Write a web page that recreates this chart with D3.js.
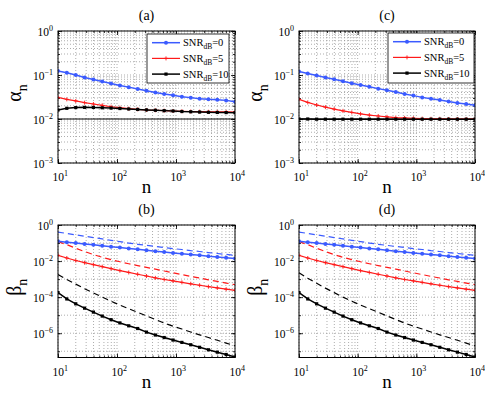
<!DOCTYPE html>
<html><head><meta charset="utf-8">
<script src="https://cdn.jsdelivr.net/npm/d3@7"></script>
<style>
body{margin:0;background:#fff}
svg{display:block}
text{font-family:"Liberation Serif","Times New Roman",Tinos,Times,serif;fill:#000}
</style>
</head><body>
<svg id="chart" width="485" height="396"></svg>
<script>
// ---------------- data ----------------
const nValues = [10, 14.1, 20, 28.2, 39.8, 56.2, 79.4, 112, 158, 224, 316, 447, 631, 891, 1259, 1778, 2512, 3548, 5012, 7079, 10000];
const nTicks = [10, 100, 1000, 10000];
const alphaTicks = [1, 0.1, 0.01, 0.001];
const betaTicks = [1, 1e-2, 1e-4, 1e-6];
const alphaDomain = [1e-3, 1];
const betaDomain = [4.5e-8, 1];
const alphaRef = 0.01;
const snrLabels = ["0", "5", "10"];
const panelTitles = ["(a)", "(b)", "(c)", "(d)"];

// panel (a): alpha_n
const alphaA0  = [0.123, 0.113, 0.100, 0.088, 0.079, 0.071, 0.064, 0.058, 0.053, 0.048, 0.044, 0.040, 0.037, 0.0345, 0.0322, 0.0306, 0.029, 0.028, 0.0275, 0.0265, 0.0248];
const alphaA5  = [0.031, 0.028, 0.0257, 0.0235, 0.0219, 0.0205, 0.019, 0.0181, 0.0172, 0.0166, 0.016, 0.0158, 0.0155, 0.0152, 0.015, 0.0148, 0.0147, 0.0146, 0.0145, 0.0145, 0.0144];
const alphaA10 = [0.0160, 0.0175, 0.0182, 0.0184, 0.0183, 0.0180, 0.0177, 0.0173, 0.0169, 0.0165, 0.0161, 0.0158, 0.0155, 0.0152, 0.0148, 0.0146, 0.0144, 0.0142, 0.0141, 0.0140, 0.0139];

// panel (c): alpha_n
const alphaC0  = [0.120, 0.108, 0.097, 0.088, 0.080, 0.072, 0.065, 0.059, 0.054, 0.049, 0.045, 0.041, 0.037, 0.034, 0.031, 0.029, 0.027, 0.025, 0.023, 0.022, 0.0205];
const alphaC5  = [0.028, 0.0238, 0.0208, 0.0186, 0.0168, 0.0153, 0.0141, 0.0131, 0.0123, 0.0117, 0.0112, 0.0108, 0.0106, 0.0104, 0.0102, 0.0101, 0.0101, 0.0100, 0.0100, 0.0100, 0.0099];
const alphaC10 = [0.0100, 0.0100, 0.0099, 0.0099, 0.0099, 0.0099, 0.0099, 0.0099, 0.0099, 0.0099, 0.0099, 0.0099, 0.0099, 0.0099, 0.0099, 0.0099, 0.0099, 0.0099, 0.0099, 0.0099, 0.0099];

// panel (b): beta_n (solid = with markers, dashed = bound)
const betaB0  = [0.126, 0.112, 0.100, 0.0891, 0.0794, 0.0708, 0.0631, 0.0562, 0.0501, 0.0447, 0.0398, 0.0355, 0.0316, 0.0282, 0.0251, 0.0229, 0.0209, 0.0186, 0.0170, 0.0155, 0.0138];
const betaB5  = [0.0209, 0.0148, 0.0107, 0.00813, 0.00631, 0.00490, 0.00380, 0.00295, 0.00234, 0.00186, 0.00148, 0.00117, 9.55e-4, 7.94e-4, 6.61e-4, 5.50e-4, 4.57e-4, 3.80e-4, 3.24e-4, 2.75e-4, 2.40e-4];
const betaB10 = [1.78e-4, 7.94e-5, 4.27e-5, 2.45e-5, 1.48e-5, 8.91e-6, 5.62e-6, 3.72e-6, 2.57e-6, 1.82e-6, 1.15e-6, 7.94e-7, 5.75e-7, 4.17e-7, 3.09e-7, 2.29e-7, 1.66e-7, 1.20e-7, 8.91e-8, 6.61e-8, 4.79e-8];
const boundB0  = [0.407, 0.339, 0.282, 0.240, 0.200, 0.170, 0.141, 0.120, 0.100, 0.0851, 0.0741, 0.0646, 0.0562, 0.0490, 0.0437, 0.0380, 0.0339, 0.0295, 0.0263, 0.0234, 0.0209];
const boundB5  = [0.120, 0.0813, 0.0513, 0.0339, 0.0229, 0.0162, 0.0120, 0.00912, 0.00708, 0.00562, 0.00447, 0.00355, 0.00282, 0.00224, 0.00178, 0.00141, 0.00115, 9.12e-4, 7.41e-4, 6.03e-4, 4.90e-4];
const boundB10 = [1.78e-3, 9.55e-4, 5.25e-4, 2.95e-4, 1.70e-4, 1.00e-4, 5.89e-5, 3.63e-5, 2.29e-5, 1.45e-5, 9.12e-6, 5.75e-6, 3.63e-6, 2.45e-6, 1.70e-6, 1.17e-6, 8.13e-7, 5.75e-7, 4.07e-7, 2.82e-7, 2.00e-7];

// panel (d): beta_n
const betaD0  = [0.126, 0.112, 0.100, 0.0891, 0.0794, 0.0708, 0.0631, 0.0562, 0.0501, 0.0447, 0.0398, 0.0355, 0.0316, 0.0282, 0.0251, 0.0229, 0.0209, 0.0186, 0.0170, 0.0155, 0.0138];
const betaD5  = [0.0209, 0.0148, 0.0107, 0.00813, 0.00631, 0.00490, 0.00380, 0.00295, 0.00234, 0.00186, 0.00148, 0.00117, 9.55e-4, 7.94e-4, 6.61e-4, 5.50e-4, 4.57e-4, 3.80e-4, 3.24e-4, 2.75e-4, 2.40e-4];
const betaD10 = [1.78e-4, 7.94e-5, 4.27e-5, 2.45e-5, 1.48e-5, 8.91e-6, 5.62e-6, 3.72e-6, 2.57e-6, 1.82e-6, 1.15e-6, 7.94e-7, 5.75e-7, 4.17e-7, 3.09e-7, 2.29e-7, 1.66e-7, 1.20e-7, 8.91e-8, 6.61e-8, 4.79e-8];
const boundD0  = [0.407, 0.339, 0.282, 0.240, 0.200, 0.170, 0.141, 0.120, 0.100, 0.0851, 0.0741, 0.0646, 0.0562, 0.0490, 0.0437, 0.0380, 0.0339, 0.0295, 0.0263, 0.0234, 0.0209];
const boundD5  = [0.120, 0.0813, 0.0513, 0.0339, 0.0229, 0.0162, 0.0120, 0.00912, 0.00708, 0.00562, 0.00447, 0.00355, 0.00282, 0.00224, 0.00178, 0.00141, 0.00115, 9.12e-4, 7.41e-4, 6.03e-4, 4.90e-4];
const boundD10 = [2.24e-3, 1.12e-3, 5.89e-4, 3.16e-4, 1.78e-4, 1.00e-4, 5.89e-5, 3.63e-5, 2.29e-5, 1.45e-5, 9.12e-6, 5.75e-6, 3.63e-6, 2.45e-6, 1.70e-6, 1.17e-6, 8.13e-7, 5.75e-7, 4.07e-7, 2.82e-7, 2.00e-7];

// ---------------- styling ----------------
const BLUE = "#3b5bff", RED = "#ff1a1a", BLACK = "#000";
const colors = [BLUE, RED, BLACK];
const markers = ["circle", "plus", "square"];
const FONT = '"Liberation Serif","Times New Roman",Tinos,Times,serif';

const svg = d3.select("#chart");
svg.append("rect").attr("width", 485).attr("height", 396).attr("fill", "#fff");

let clipId = 0;

function sup(textSel, exp) {
  textSel.text(null);
  textSel.append("tspan").text("10");
  textSel.append("tspan").attr("dy", -5).attr("font-size", 8)
    .text(exp < 0 ? "\u2212" + (-exp) : String(exp));
}

function drawMarker(g, type, cx, cy, color) {
  if (type === "circle") {
    g.append("circle").attr("cx", cx).attr("cy", cy).attr("r", 2).attr("fill", color);
  } else if (type === "square") {
    g.append("rect").attr("x", cx - 1.6).attr("y", cy - 1.6).attr("width", 3.2).attr("height", 3.2).attr("fill", color);
  } else {
    g.append("path").attr("d", `M${cx - 2},${cy}H${cx + 2}M${cx},${cy - 2}V${cy + 2}`).attr("stroke", color).attr("stroke-width", 0.9);
  }
}

function drawPanel(o) {
  const g = svg.append("g").attr("font-family", FONT);
  const x = d3.scaleLog().domain([nTicks[0], nTicks[nTicks.length - 1]]).range([o.x0, o.x1]);
  const y = d3.scaleLog().domain(o.yDomain).range([o.y1, o.y0]);
  const id = "clip" + (clipId++);
  svg.append("clipPath").attr("id", id).append("rect")
    .attr("x", o.x0).attr("y", o.y0).attr("width", o.x1 - o.x0).attr("height", o.y1 - o.y0);

  const xMinor = [];
  [10, 100, 1000].forEach(d => { for (let m = 1; m <= 9; m++) xMinor.push(d * m); });
  xMinor.push(10000);
  const yAll = [];
  const lo = Math.floor(Math.log10(o.yDomain[0])), hi = Math.round(Math.log10(o.yDomain[1]));
  for (let e = lo; e < hi; e++) {
    if (o.yMinor) { for (let m = 1; m <= 9; m++) yAll.push(m * Math.pow(10, e)); }
    else yAll.push(Math.pow(10, e));
  }
  yAll.push(Math.pow(10, hi));
  const yGrid = yAll.filter(v => v >= o.yDomain[0] && v <= o.yDomain[1]);

  const grid = g.append("g").attr("stroke", "#8a8a8a").attr("stroke-width", 0.7).attr("stroke-dasharray", "1,2");
  grid.selectAll("line.vx").data(xMinor).join("line")
    .attr("x1", d => x(d)).attr("x2", d => x(d)).attr("y1", o.y0).attr("y2", o.y1);
  grid.selectAll("line.hy").data(yGrid).join("line")
    .attr("y1", d => y(d)).attr("y2", d => y(d)).attr("x1", o.x0).attr("x2", o.x1);

  const bottom = g.append("g").attr("transform", `translate(0,${o.y1})`)
    .call(d3.axisBottom(x).tickValues(nTicks).tickSizeInner(-4).tickSizeOuter(0));
  bottom.attr("font-family", FONT);
  bottom.select(".domain").remove();
  bottom.selectAll("text").attr("y", 18).attr("dy", null).attr("x", -6)
    .attr("text-anchor", "start").attr("font-size", 11.5)
    .each(function (d) { sup(d3.select(this), Math.round(Math.log10(d))); });
  const left = g.append("g").attr("transform", `translate(${o.x0},0)`)
    .call(d3.axisLeft(y).tickValues(o.yTicks).tickSizeInner(-4).tickSizeOuter(0));
  left.attr("font-family", FONT);
  left.select(".domain").remove();
  left.selectAll("text").attr("x", -5).attr("dy", null).attr("y", 4)
    .attr("text-anchor", "end").attr("font-size", 11.5)
    .each(function (d) { sup(d3.select(this), Math.round(Math.log10(d))); });
  const top = g.append("g").attr("transform", `translate(0,${o.y0})`)
    .call(d3.axisTop(x).tickValues(nTicks).tickSizeInner(-4).tickSizeOuter(0).tickFormat(""));
  top.select(".domain").remove();
  const right = g.append("g").attr("transform", `translate(${o.x1},0)`)
    .call(d3.axisRight(y).tickValues(o.yTicks).tickSizeInner(-4).tickSizeOuter(0).tickFormat(""));
  right.select(".domain").remove();
  [[d3.axisBottom(x), o.y1], [d3.axisTop(x), o.y0]].forEach(([ax, pos]) => {
    const s = g.append("g").attr("transform", `translate(0,${pos})`)
      .call(ax.tickValues(xMinor).tickSizeInner(-2).tickSizeOuter(0).tickFormat(""));
    s.select(".domain").remove();
  });
  [[d3.axisLeft(y), o.x0], [d3.axisRight(y), o.x1]].forEach(([ax, pos]) => {
    const s = g.append("g").attr("transform", `translate(${pos},0)`)
      .call(ax.tickValues(yGrid).tickSizeInner(-2).tickSizeOuter(0).tickFormat(""));
    s.select(".domain").remove();
  });
  g.selectAll(".tick line").attr("stroke", "#000").attr("stroke-width", 0.8);

  const plot = g.append("g").attr("clip-path", `url(#${id})`);
  const line = d3.line().x((d, i) => x(nValues[i])).y(d => y(d));
  if (o.ref !== undefined) {
    plot.append("line").attr("x1", o.x0).attr("x2", o.x1).attr("y1", y(o.ref)).attr("y2", y(o.ref))
      .attr("stroke", "#000").attr("stroke-width", 1);
  }
  (o.dashed || []).forEach((s, k) => {
    plot.append("path").datum(s).attr("d", line).attr("fill", "none")
      .attr("stroke", colors[k]).attr("stroke-width", 1.2).attr("stroke-dasharray", "6,4");
  });
  o.series.forEach((s, k) => {
    plot.append("path").datum(s).attr("d", line).attr("fill", "none")
      .attr("stroke", colors[k]).attr("stroke-width", k === 1 ? 1.2 : 1.5);
    const mg = plot.append("g");
    s.forEach((v, i) => drawMarker(mg, markers[k], x(nValues[i]), y(v), colors[k]));
  });

  g.append("rect").attr("x", o.x0).attr("y", o.y0).attr("width", o.x1 - o.x0).attr("height", o.y1 - o.y0)
    .attr("fill", "none").attr("stroke", "#000").attr("stroke-width", 1);

  g.append("text").attr("x", (o.x0 + o.x1) / 2).attr("y", o.y0 - 11).attr("text-anchor", "middle")
    .attr("font-size", 14).text(o.title);
  g.append("text").attr("x", (o.x0 + o.x1) / 2).attr("y", o.y1 + 30).attr("text-anchor", "middle")
    .attr("font-size", 19).text("n");
  const yl = g.append("text").attr("transform", `translate(${o.x0 - 37},${(o.y0 + o.y1) / 2 - 4}) rotate(-90)`)
    .attr("text-anchor", "middle").attr("font-size", 20);
  yl.append("tspan").text(o.ylab);
  yl.append("tspan").attr("dy", 6).attr("font-size", 14).text("n");

  if (o.legend) {
    const L = o.legend;
    const lg = g.append("g");
    lg.append("rect").attr("x", L.x).attr("y", L.y).attr("width", L.w).attr("height", L.h)
      .attr("fill", "#fff").attr("stroke", "#000").attr("stroke-width", 0.8);
    snrLabels.forEach((lab, k) => {
      const yy = L.y + 8.7 + k * 15.7;
      lg.append("line").attr("x1", L.x + 5).attr("x2", L.x + 33).attr("y1", yy).attr("y2", yy)
        .attr("stroke", colors[k]).attr("stroke-width", k === 1 ? 1.2 : 1.5);
      drawMarker(lg, markers[k], L.x + 19, yy, colors[k]);
      const t = lg.append("text").attr("x", L.x + 36).attr("y", yy + 3.5).attr("font-size", 10.5);
      t.append("tspan").text("SNR");
      t.append("tspan").attr("dy", 3).attr("font-size", 7.5).text("dB");
      t.append("tspan").attr("dy", -3).text("=" + lab);
    });
  }
}

drawPanel({ x0: 58, x1: 235, y0: 31, y1: 163, yDomain: alphaDomain, yTicks: alphaTicks, yMinor: true,
  series: [alphaA0, alphaA5, alphaA10], ref: alphaRef, title: panelTitles[0], ylab: "\u03b1",
  legend: { x: 147, y: 34, w: 82, h: 49 } });
drawPanel({ x0: 58, x1: 235, y0: 225, y1: 357.5, yDomain: betaDomain, yTicks: betaTicks, yMinor: false,
  series: [betaB0, betaB5, betaB10], dashed: [boundB0, boundB5, boundB10], title: panelTitles[1], ylab: "\u03b2" });
drawPanel({ x0: 299, x1: 475, y0: 31, y1: 163, yDomain: alphaDomain, yTicks: alphaTicks, yMinor: true,
  series: [alphaC0, alphaC5, alphaC10], ref: alphaRef, title: panelTitles[2], ylab: "\u03b1",
  legend: { x: 388, y: 33, w: 86, h: 50 } });
drawPanel({ x0: 299, x1: 475, y0: 225, y1: 357.5, yDomain: betaDomain, yTicks: betaTicks, yMinor: false,
  series: [betaD0, betaD5, betaD10], dashed: [boundD0, boundD5, boundD10], title: panelTitles[3], ylab: "\u03b2" });
</script>
</body></html>
